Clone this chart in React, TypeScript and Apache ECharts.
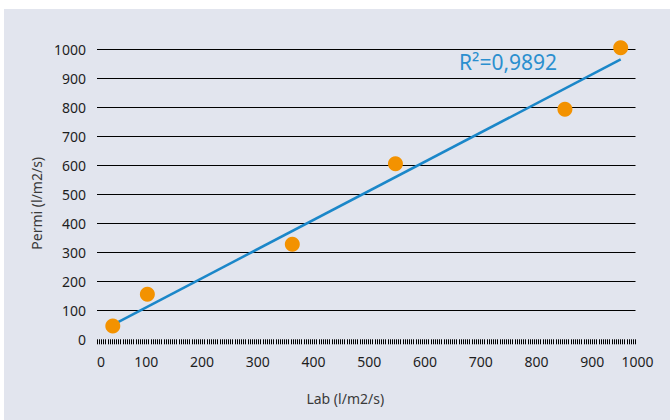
import React, { useEffect, useRef } from "react";
import * as echarts from "echarts";

const labX = [40, 102, 362, 547, 851, 951];
const permi = [46, 155, 328, 605, 793, 1005];
const trendX = [40, 951];
const trendY = [50, 965];
const r2Label = "R²=0,9892";
const xName = "Lab (l/m2/s)";
const yName = "Permi (l/m2/s)";

const FONT = "'Noto Sans', sans-serif";
const TXT = "#1e1e1e";

export default function App() {
  const ref = useRef<HTMLDivElement>(null);
  useEffect(() => {
    if (!ref.current) return;
    const chart = echarts.init(ref.current, undefined, { renderer: "svg" });
    const top = 49.3;
    const h = 290;
    chart.setOption({
      animation: false,
      textStyle: { fontFamily: FONT },
      grid: [
        { left: 97, top, width: 538.5, height: h },
        { left: 90.5, top, width: 557.5, height: h },
      ],
      xAxis: [
        {
          gridIndex: 0,
          type: "value",
          min: 0,
          max: 1000,
          interval: 100,
          axisLine: { show: false },
          axisLabel: { show: false },
          splitLine: { show: false },
          axisTick: { show: true, length: 5, lineStyle: { color: "#000", width: 1 } },
          minorTick: { show: true, splitNumber: 25, length: 5, lineStyle: { color: "#000", width: 1 } },
          minorSplitLine: { show: false },
        },
        {
          gridIndex: 1,
          type: "value",
          min: 0,
          max: 1000,
          interval: 100,
          axisLine: { show: false },
          axisTick: { show: false },
          splitLine: { show: false },
          name: xName,
          nameLocation: "middle",
          nameGap: 52,
          nameTextStyle: { fontSize: 14, color: "#3a3a3a", fontFamily: FONT, padding: [0, 48, 0, 0] },
          axisLabel: {
            margin: 15,
            fontSize: 14,
            color: TXT,
            fontFamily: FONT,
            formatter: (v: number) =>
              v === 0 ? "{first|0}" : v === 1000 ? "{last|1000}" : String(v),
            rich: {
              first: { fontSize: 14, color: TXT, fontFamily: FONT, padding: [0, 0, 0, 21] },
              last: { fontSize: 14, color: TXT, fontFamily: FONT, padding: [0, 21, 0, 0] },
            },
          },
        },
      ],
      yAxis: [
        {
          gridIndex: 0,
          type: "value",
          min: 0,
          max: 1000,
          interval: 100,
          axisLine: { show: false },
          axisTick: { show: false },
          axisLabel: {
            margin: 11,
            fontSize: 14,
            color: TXT,
            fontFamily: FONT,
            formatter: (v: number) => String(v),
          },
          splitLine: { show: true, showMinLine: false, lineStyle: { color: "#000", width: 1 } },
          name: yName,
          nameLocation: "middle",
          nameGap: 52,
          nameTextStyle: { fontSize: 14, color: "#3a3a3a", fontFamily: FONT, padding: [0, 18, 0, 0] },
        },
        {
          gridIndex: 1,
          type: "value",
          min: 0,
          max: 1000,
          show: false,
        },
      ],
      series: [
        {
          type: "line",
          xAxisIndex: 1,
          yAxisIndex: 1,
          data: trendX.map((x, i) => [x, trendY[i]]),
          showSymbol: false,
          lineStyle: { color: "#1b87c9", width: 2.5 },
          z: 2,
        },
        {
          type: "scatter",
          xAxisIndex: 1,
          yAxisIndex: 1,
          data: labX.map((x, i) => [x, permi[i]]),
          symbolSize: 15,
          clip: false,
          itemStyle: { color: "#f39200", opacity: 1 },
          z: 3,
        },
      ],
      graphic: [
        {
          type: "text",
          left: 459,
          top: 51,
          style: {
            text: r2Label,
            fontSize: 21,
            fontFamily: FONT,
            fill: "#2b8fcf",
          },
        },
      ],
    });
    return () => chart.dispose();
  }, []);

  return (
    <div style={{ position: "fixed", left: 0, top: 0, width: 670, height: 420, background: "#fff" }}>
      <div style={{ position: "absolute", left: 3.5, top: 9, width: 666.5, height: 411, background: "#e2e5ee" }} />
      <div ref={ref} style={{ position: "absolute", left: 0, top: 0, width: 670, height: 420 }} />
    </div>
  );
}
